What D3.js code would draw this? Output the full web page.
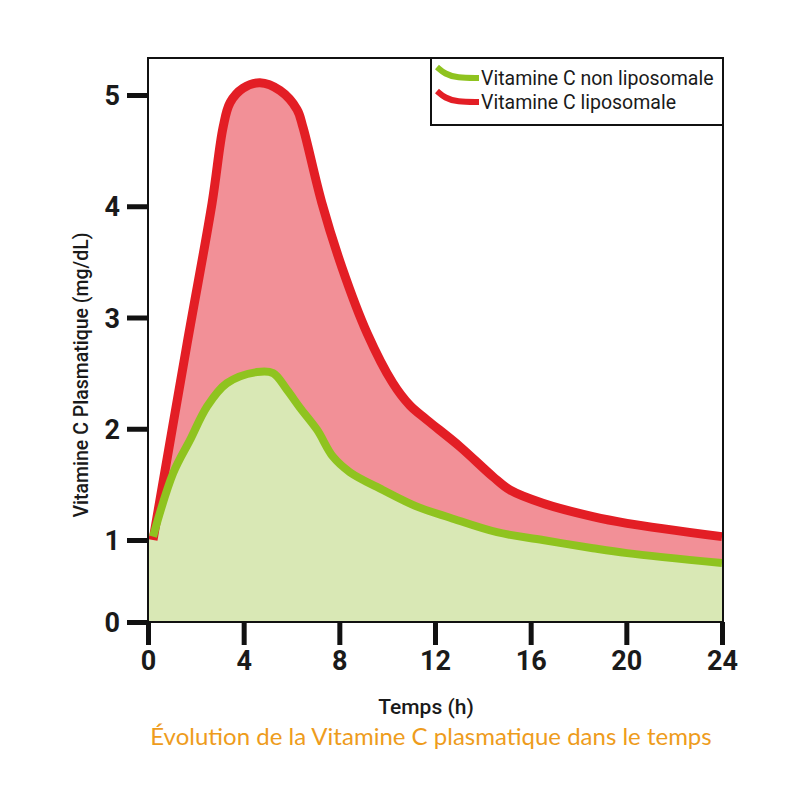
<!DOCTYPE html>
<html>
<head>
<meta charset="utf-8">
<script src="https://cdn.jsdelivr.net/npm/d3@7"></script>
<style>
  body { margin: 0; background: #fff; }
  text { font-family: Roboto, "Noto Sans", sans-serif; }
</style>
</head>
<body>
<script>
// chart values
var xTicks = [0, 4, 8, 12, 16, 20, 24];
var yTicks = [0, 1, 2, 3, 4, 5];

var lipoHours  = [0.21, 1.63, 2.68, 3.14, 3.43, 3.97, 4.68, 5.52, 6.23, 6.48, 7.27, 8.11, 9.16, 10.24, 10.95, 11.66, 13.04, 14.42, 15.13, 16.51, 18.60, 20.03, 24.0];
var lipoValues = [1.00, 2.76, 4.03, 4.71, 4.93, 5.06, 5.11, 5.04, 4.87, 4.71, 4.03, 3.45, 2.86, 2.41, 2.21, 2.08, 1.84, 1.57, 1.45, 1.33, 1.21, 1.15, 1.03];

var plainHours  = [0.21, 1.05, 1.76, 2.47, 3.30, 4.56, 5.23, 5.81, 6.35, 7.07, 7.73, 8.44, 9.82, 11.25, 12.63, 14.59, 16.51, 18.60, 20.03, 24.0];
var plainValues = [1.03, 1.60, 1.90, 2.20, 2.41, 2.51, 2.50, 2.35, 2.19, 1.99, 1.75, 1.61, 1.45, 1.30, 1.20, 1.07, 1.00, 0.90, 0.84, 0.72];

var legendLabels = ["Vitamine C non liposomale", "Vitamine C liposomale"];
var xTitle = "Temps (h)";
var yTitle = "Vitamine C Plasmatique (mg/dL)";
var caption = "Évolution de la Vitamine C plasmatique dans le temps";

var red = "#e31e25", redFill = "#f29097";
var green = "#8fc31f", greenFill = "#d9e8b5";

var width = 800, height = 800;
var plotLeft = 148, plotRight = 723, plotTop = 58, plotBottom = 622;

var svg = d3.select('body').append('svg')
  .attr('width', width)
  .attr('height', height);

var x = d3.scaleLinear().domain([0, 24]).range([plotLeft, plotRight - 1]);
// the axis is squeezed between 0 and 1 in the original
var y = d3.scaleLinear().domain([0, 1, 5]).range([plotBottom, 540, 95]);

function toPoints(hours, values) {
  var pts = [];
  for (var i = 0; i < hours.length; i++) {
    pts.push({h: hours[i], v: values[i]});
  }
  return pts;
}

var lipo = toPoints(lipoHours, lipoValues);
var plain = toPoints(plainHours, plainValues);

var curve = d3.curveCatmullRom.alpha(0.5);

var line = d3.line()
  .x(function(d) { return x(d.h); })
  .y(function(d) { return y(d.v); })
  .curve(curve);

var area = d3.area()
  .x(function(d) { return x(d.h); })
  .y0(y(0))
  .y1(function(d) { return y(d.v); })
  .curve(curve);

// fill reaches the axis below the first reading
function withStart(pts) {
  return [{h: 0, v: pts[0].v}].concat(pts);
}

svg.append('path').datum(withStart(lipo))
  .attr('d', area).attr('fill', redFill);
svg.append('path').datum(withStart(plain))
  .attr('d', area).attr('fill', greenFill);

svg.append('path').datum(lipo)
  .attr('d', line)
  .attr('fill', 'none')
  .attr('stroke', red)
  .attr('stroke-width', 9)
  .attr('stroke-linejoin', 'round');

svg.append('path').datum(plain)
  .attr('d', line)
  .attr('fill', 'none')
  .attr('stroke', green)
  .attr('stroke-width', 8)
  .attr('stroke-linejoin', 'round');

// frame
svg.append('rect')
  .attr('x', plotLeft).attr('y', plotTop)
  .attr('width', plotRight - plotLeft).attr('height', plotBottom - plotTop)
  .attr('fill', 'none')
  .attr('stroke', '#111')
  .attr('stroke-width', 2);

// axes
var xAxis = svg.append('g')
  .attr('transform', 'translate(0,' + plotBottom + ')')
  .call(d3.axisBottom(x).tickValues(xTicks).tickFormat(d3.format('d'))
    .tickSize(23).tickPadding(6).tickSizeOuter(0));

var yAxis = svg.append('g')
  .attr('transform', 'translate(' + plotLeft + ',0)')
  .call(d3.axisLeft(y).tickValues(yTicks).tickFormat(d3.format('d'))
    .tickSize(21).tickPadding(7).tickSizeOuter(0));

[xAxis, yAxis].forEach(function(g) {
  g.select('.domain').remove();
  g.selectAll('.tick line').attr('stroke', '#111').attr('stroke-width', 5);
  g.selectAll('.tick text')
    .attr('fill', '#1a1a1a')
    .style('font-size', '27px')
    .style('font-weight', 'bold');
});
yAxis.selectAll('.tick text').attr('dy', '0.36em');

// titles
svg.append('text')
  .attr('x', 426).attr('y', 714)
  .attr('text-anchor', 'middle')
  .attr('fill', '#1a1a1a')
  .style('font-size', '21px')
  .style('font-weight', 500)
  .text(xTitle);

svg.append('text')
  .attr('transform', 'translate(88,375) rotate(-90)')
  .attr('text-anchor', 'middle')
  .attr('fill', '#1a1a1a')
  .style('font-size', '19.5px')
  .style('font-weight', 500)
  .text(yTitle);

svg.append('text')
  .attr('x', 431).attr('y', 745)
  .attr('text-anchor', 'middle')
  .attr('fill', '#ee9c1c')
  .style('font-family', 'Lato, sans-serif')
  .style('font-size', '24px')
  .style('font-weight', 400)
  .text(caption);

// legend
var legend = svg.append('g').attr('transform', 'translate(431,' + plotTop + ')');
legend.append('rect')
  .attr('width', plotRight - 431).attr('height', 67)
  .attr('fill', '#fff')
  .attr('stroke', '#111')
  .attr('stroke-width', 2);

var swoosh = d3.line().curve(d3.curveBasis);
var swooshShape = [[6, 9], [14, 16], [26, 20], [48, 20]];
[green, red].forEach(function(c, i) {
  var dy = i * 24;
  legend.append('path')
    .attr('d', swoosh(swooshShape.map(function(p) { return [p[0], p[1] + dy]; })))
    .attr('fill', 'none')
    .attr('stroke', c)
    .attr('stroke-width', 6);
  legend.append('text')
    .attr('x', 50).attr('y', 27 + dy)
    .attr('fill', '#1a1a1a')
    .style('font-size', '19.5px')
    .text(legendLabels[i]);
});
</script>
</body>
</html>
